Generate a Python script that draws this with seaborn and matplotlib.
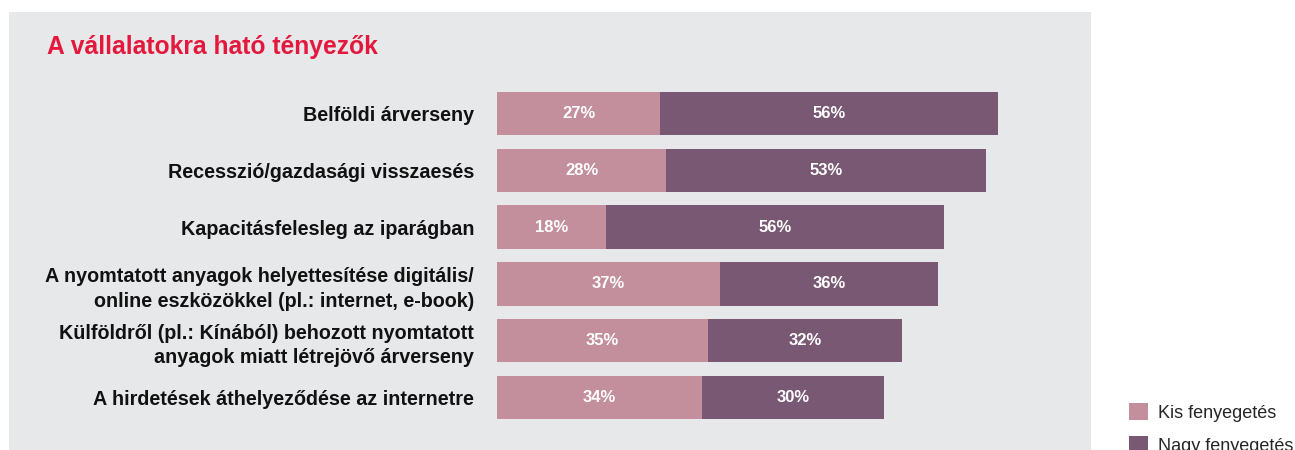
import matplotlib
matplotlib.use("Agg")
import matplotlib.pyplot as plt
from matplotlib.patches import Rectangle, Patch
import seaborn as sns
import pandas as pd

# Chart data
categories = [
    "Belföldi árverseny",
    "Recesszió/gazdasági visszaesés",
    "Kapacitásfelesleg az iparágban",
    "A nyomtatott anyagok helyettesítése digitális/\nonline eszközökkel (pl.: internet, e-book)",
    "Külföldről (pl.: Kínából) behozott nyomtatott\nanyagok miatt létrejövő árverseny",
    "A hirdetések áthelyeződése az internetre",
]
kis = [27, 28, 18, 37, 35, 34]
nagy = [56, 53, 56, 36, 32, 30]
series_names = ["Kis fenyegetés", "Nagy fenyegetés"]
title = "A vállalatokra ható tényezők"

PINK = "#C48F9C"
PURPLE = "#795873"
PANEL = "#E7E8EA"
RED = "#E4183C"

sns.set_theme(style="white")
plt.rcParams["font.family"] = ["Liberation Sans", "DejaVu Sans"]

df = pd.DataFrame({"factor": categories, "kis": kis, "nagy": nagy})
df["total"] = df["kis"] + df["nagy"]

W, H = 1295, 450
fig = plt.figure(figsize=(W / 100, H / 100), dpi=100, facecolor="white")

# grey panel behind the chart
fig.patches.append(Rectangle((9 / W, 0), (1091 - 9) / W, 1 - 12 / H,
                             transform=fig.transFigure, facecolor=PANEL,
                             edgecolor="none", zorder=-5))

ax_left, ax_right = 497 / W, (497 + 604) / W
ax_top, ax_bot = 1 - 85 / H, 1 - 426 / H
ax = fig.add_axes([ax_left, ax_bot, ax_right - ax_left, ax_top - ax_bot])
ax.set_facecolor("none")
ax.set_zorder(2)

# stacked bars: full total in dark, small-threat share in pink on top
sns.barplot(data=df, y="factor", x="total", color=PURPLE, orient="h",
            width=0.76, ax=ax, saturation=1, linewidth=0)
sns.barplot(data=df, y="factor", x="kis", color=PINK, orient="h",
            width=0.76, ax=ax, saturation=1, linewidth=0)

for i, (k, n) in enumerate(zip(kis, nagy)):
    ax.text(k / 2, i, f"{k}%", ha="center", va="center", color="white",
            fontsize=12, fontweight="bold")
    ax.text(k + n / 2, i, f"{n}%", ha="center", va="center", color="white",
            fontsize=12, fontweight="bold")

ax.set_xlim(0, 100)
ax.set_ylim(len(categories) - 0.5, -0.5)
ax.set_xlabel("")
ax.set_ylabel("")
ax.set_xticks([])
for s in ax.spines.values():
    s.set_visible(False)
ax.tick_params(axis="y", length=0, pad=16.5)
for lbl in ax.get_yticklabels():
    lbl.set_fontweight("bold")
    lbl.set_fontsize(14.2)
    lbl.set_color("#111111")
    lbl.set_linespacing(1.38)

fig.text(47 / W, 1 - 47 / H, title, color=RED, fontsize=17.7,
         fontweight="bold", ha="left", va="center")

handles = [Patch(facecolor=PINK, edgecolor="none"),
           Patch(facecolor=PURPLE, edgecolor="none")]
fig.legend(handles, series_names, loc="upper left",
           bbox_to_anchor=(1129 / W, 1 - 403 / H), frameon=False,
           fontsize=13, handlelength=1.05, handleheight=1.05,
           handletextpad=0.55, labelspacing=0.8, borderaxespad=0,
           borderpad=0)

fig.savefig("out.png", dpi=100, facecolor="white")
